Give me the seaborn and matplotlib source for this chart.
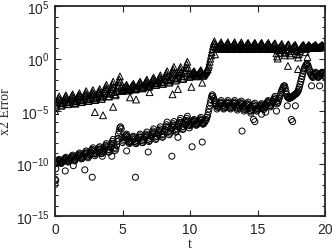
import numpy as np
import pandas as pd
import matplotlib
matplotlib.use("Agg")
import matplotlib.pyplot as plt
import matplotlib.ticker as mticker
import seaborn as sns

# time grid of the dense samples (every 0.05 from 0 to 20)
t_grid = [round(0.05 * i, 2) for i in range(401)]

# log10 of error, triangle series (one row = 0.5 time units)
tri_log = [
    -5.0, -4.6, -4.4, -4.2, -4.0, -3.8, -3.6, -3.9, -4.2, -4.5,
    -4.4, -4.25, -4.1, -3.95, -3.8, -3.65, -3.5, -3.8, -4.1, -4.35,
    -4.3, -4.15, -4.0, -3.85, -3.7, -3.55, -3.4, -3.7, -4.0, -4.25,
    -4.2, -4.05, -3.9, -3.75, -3.6, -3.45, -3.3, -3.6, -3.9, -4.15,
    -4.1, -3.95, -3.8, -3.6, -3.45, -3.3, -3.1, -3.45, -3.8, -4.05,
    -4.0, -3.85, -3.7, -3.5, -3.35, -3.2, -3.0, -3.35, -3.7, -3.95,
    -3.9, -3.75, -3.6, -3.4, -3.25, -3.1, -2.9, -3.25, -3.6, -3.85,
    -3.7, -3.5, -3.3, -3.1, -2.9, -2.7, -2.5, -2.9, -3.3, -3.6,
    -3.6, -3.35, -3.15, -2.9, -2.7, -2.45, -2.2, -2.7, -3.2, -3.5,
    -3.4, -3.1, -2.85, -2.55, -2.25, -2.0, -1.7, -2.2, -2.7, -3.0,
    -3.1, -3.0, -2.9, -2.8, -2.7, -2.6, -2.5, -2.7, -2.9, -3.05,
    -3.0, -2.9, -2.8, -2.7, -2.6, -2.5, -2.4, -2.6, -2.8, -2.95,
    -2.9, -2.8, -2.65, -2.55, -2.45, -2.3, -2.2, -2.45, -2.7, -2.85,
    -2.8, -2.65, -2.55, -2.4, -2.25, -2.15, -2.0, -2.3, -2.55, -2.7,
    -2.6, -2.45, -2.35, -2.2, -2.05, -1.95, -1.8, -2.1, -2.35, -2.5,
    -2.5, -2.35, -2.2, -2.05, -1.9, -1.75, -1.6, -1.95, -2.25, -2.4,
    -2.4, -2.2, -2.0, -1.8, -1.6, -1.4, -1.2, -1.65, -2.05, -2.3,
    -2.2, -1.95, -1.75, -1.5, -1.25, -1.05, -0.8, -1.35, -1.85, -2.1,
    -2.0, -1.8, -1.6, -1.4, -1.2, -1.0, -0.8, -1.3, -1.7, -1.95,
    -1.9, -1.65, -1.35, -1.1, -0.85, -0.55, -0.3, -0.9, -1.4, -1.75,
    -1.7, -1.6, -1.5, -1.45, -1.35, -1.3, -1.2, -1.35, -1.5, -1.65,
    -1.7, -1.6, -1.5, -1.4, -1.3, -1.2, -1.1, -1.3, -1.5, -1.65,
    -1.6, -1.5, -1.4, -1.3, -1.2, -1.1, -1.0, -0.8, -0.6, -0.3,
    0.0, 0.3, 0.6, 0.9, 1.2, 1.45, 1.65, 1.4, 1.15, 0.95,
    0.9, 1.0, 1.1, 1.2, 1.3, 1.4, 1.55, 1.35, 1.15, 0.95,
    0.9, 1.0, 1.1, 1.2, 1.3, 1.4, 1.55, 1.35, 1.15, 0.95,
    0.9, 1.0, 1.1, 1.2, 1.3, 1.4, 1.55, 1.35, 1.15, 0.95,
    0.9, 1.0, 1.1, 1.2, 1.3, 1.4, 1.55, 1.35, 1.15, 0.95,
    0.9, 1.0, 1.1, 1.2, 1.3, 1.4, 1.5, 1.35, 1.15, 0.95,
    0.9, 1.0, 1.1, 1.2, 1.3, 1.4, 1.5, 1.35, 1.15, 0.95,
    0.9, 1.0, 1.1, 1.2, 1.3, 1.4, 1.5, 1.35, 1.15, 0.95,
    0.9, 1.0, 1.1, 1.2, 1.3, 1.4, 1.5, 1.3, 1.1, 0.9,
    0.9, 1.0, 1.1, 1.2, 1.3, 1.4, 1.45, 1.0, 0.5, 0.2,
    0.8, 0.9, 1.0, 1.1, 1.2, 1.3, 1.4, 1.1, 0.8, 0.5,
    0.3, 0.6, 0.9, 1.1, 1.2, 1.3, 1.35, 0.9, 0.5, 0.3,
    0.7, 0.9, 1.0, 1.1, 1.2, 1.25, 1.3, 1.1, 0.8, 0.4,
    0.1, 0.4, 0.7, 0.9, 1.0, 1.1, 1.2, 1.25, 1.3, 1.2,
    1.0, 0.6, 0.9, 1.05, 1.15, 1.2, 1.3, 1.2, 1.1, 1.05,
    1.0, 1.05, 1.1, 1.15, 1.2, 1.25, 1.3, 1.2, 1.1, 1.05,
    1.0, 1.05, 1.1, 1.15, 1.2, 1.25, 1.3, 1.2, 1.1, 1.05,
    1.2,
]

# scattered low triangles
tri_out_t = [1.5, 2.95, 3.55, 4.3, 5.55, 6.0, 7.0, 8.7, 9.1, 10.1, 10.9,
             11.85, 16.5, 17.25, 18.0, 18.7]
tri_out_log = [-4.3, -5.1, -5.4, -4.6, -3.7, -3.9, -3.2, -3.4, -2.9, -2.7, -2.3,
               0.4, 0.0, -0.7, -1.0, 0.15]

# log10 of error, circle series (one row = 0.5 time units)
circ_log = [
    -11.5, -10.5, -10.0, -9.9, -9.8, -9.7, -9.6, -9.75, -9.9, -10.0,
    -9.9, -9.8, -9.7, -9.65, -9.55, -9.5, -9.4, -9.6, -9.75, -9.85,
    -9.8, -9.7, -9.6, -9.5, -9.4, -9.3, -9.2, -9.4, -9.6, -9.75,
    -9.6, -9.5, -9.4, -9.3, -9.2, -9.1, -9.0, -9.2, -9.4, -9.55,
    -9.5, -9.4, -9.3, -9.15, -9.05, -8.9, -8.8, -9.05, -9.3, -9.45,
    -9.3, -9.15, -9.05, -8.9, -8.75, -8.65, -8.5, -8.8, -9.05, -9.25,
    -9.1, -9.0, -8.85, -8.75, -8.65, -8.5, -8.4, -8.65, -8.9, -9.05,
    -9.0, -8.85, -8.7, -8.55, -8.4, -8.25, -8.1, -8.4, -8.7, -8.9,
    -8.9, -8.7, -8.5, -8.3, -8.1, -7.9, -7.7, -8.1, -8.5, -8.75,
    -8.6, -8.3, -7.9, -7.6, -7.2, -6.9, -6.6, -6.5, -6.7, -7.5,
    -8.0, -7.85, -7.7, -7.55, -7.4, -7.3, -7.2, -7.45, -7.7, -7.9,
    -8.1, -8.0, -7.9, -7.8, -7.65, -7.5, -7.4, -7.65, -7.9, -8.05,
    -8.1, -7.95, -7.8, -7.65, -7.5, -7.35, -7.2, -7.5, -7.8, -8.0,
    -8.0, -7.85, -7.7, -7.5, -7.35, -7.2, -7.0, -7.35, -7.7, -7.9,
    -7.8, -7.6, -7.4, -7.25, -7.05, -6.9, -6.7, -7.1, -7.45, -7.7,
    -7.6, -7.4, -7.2, -7.05, -6.85, -6.7, -6.5, -6.9, -7.25, -7.5,
    -7.4, -7.2, -6.95, -6.75, -6.5, -6.3, -6.05, -6.5, -6.95, -7.25,
    -7.1, -6.9, -6.7, -6.55, -6.35, -6.2, -6.0, -6.4, -6.75, -7.0,
    -6.9, -6.7, -6.5, -6.3, -6.1, -5.9, -5.7, -6.1, -6.5, -6.75,
    -6.7, -6.5, -6.3, -6.1, -5.9, -5.7, -5.5, -5.95, -6.35, -6.6,
    -6.4, -6.3, -6.2, -6.1, -6.0, -5.9, -5.8, -6.0, -6.2, -6.35,
    -6.3, -6.2, -6.1, -6.0, -5.85, -5.75, -5.6, -5.85, -6.1, -6.25,
    -6.2, -6.1, -6.0, -5.9, -5.8, -5.6, -5.4, -5.1, -4.8, -4.5,
    -4.2, -3.9, -3.6, -3.45, -3.6, -3.8, -4.0, -4.2, -4.35, -4.5,
    -4.8, -4.65, -4.55, -4.4, -4.25, -4.15, -4.0, -4.25, -4.5, -4.7,
    -4.8, -4.65, -4.55, -4.4, -4.25, -4.15, -4.0, -4.25, -4.5, -4.7,
    -4.8, -4.65, -4.55, -4.4, -4.25, -4.15, -4.0, -4.25, -4.5, -4.7,
    -4.9, -4.75, -4.6, -4.45, -4.3, -4.2, -4.05, -4.3, -4.6, -4.8,
    -5.0, -4.85, -4.7, -4.55, -4.4, -4.3, -4.15, -4.4, -4.75, -5.0,
    -5.2, -5.0, -4.85, -4.7, -4.55, -4.4, -4.25, -4.5, -4.8, -5.0,
    -4.9, -4.8, -4.7, -4.6, -4.5, -4.4, -4.3, -4.5, -4.7, -4.85,
    -4.7, -4.6, -4.45, -4.35, -4.2, -4.1, -4.0, -4.2, -4.45, -4.6,
    -4.5, -4.35, -4.2, -4.05, -3.9, -3.75, -3.6, -3.85, -4.1, -4.3,
    -4.2, -4.0, -3.8, -3.6, -3.4, -3.2, -3.0, -2.9, -2.75, -2.6,
    -2.6, -2.8, -3.1, -3.4, -3.6, -3.7, -3.75, -3.8, -3.75, -3.7,
    -3.7, -3.65, -3.6, -3.55, -3.5, -3.45, -3.4, -3.35, -3.3, -3.2,
    -3.1, -2.9, -2.7, -2.45, -2.2, -1.95, -1.7, -1.45, -1.2, -1.0,
    -0.85, -0.7, -0.6, -0.5, -0.55, -0.7, -0.9, -1.1, -1.3, -1.5,
    -1.6, -1.7, -1.8, -1.65, -1.5, -1.4, -1.3, -1.45, -1.6, -1.75,
    -1.8, -1.7, -1.6, -1.5, -1.4, -1.35, -1.3, -1.45, -1.6, -1.7,
    -1.5,
]

# scattered low circles
circ_out_t = [0.0, 0.05, 0.75, 1.35, 2.2, 2.75, 3.5, 4.2, 5.3, 5.95, 6.9,
              8.65, 9.1, 10.15, 10.9, 13.85, 14.7, 14.8, 15.3, 15.6, 16.4,
              17.2, 17.5, 17.6, 17.8, 19.0, 19.6]
circ_out_log = [-12.0, -11.6, -10.7, -10.2, -10.6, -11.3, -9.3, -9.3, -8.8, -11.3, -8.9,
                -9.3, -7.5, -8.4, -7.95, -6.9, -5.8, -6.0, -5.3, -5.1, -5.0,
                -4.5, -5.8, -6.0, -4.5, -2.6, -2.6]

tri = pd.DataFrame({"t": t_grid + tri_out_t, "err": 10.0 ** np.array(tri_log + tri_out_log)})
circ = pd.DataFrame({"t": t_grid + circ_out_t, "err": 10.0 ** np.array(circ_log + circ_out_log)})

sns.set_style("ticks")
plt.rcParams["font.family"] = ["Liberation Sans", "DejaVu Sans"]

fig = plt.figure(figsize=(3.32, 2.53), dpi=100)
ax = fig.add_axes([0.166, 0.142, 0.813, 0.830])

sns.scatterplot(data=tri, x="t", y="err", marker="^", s=24,
                fc="none", ec="black", linewidth=0.7, ax=ax)
sns.scatterplot(data=circ, x="t", y="err", marker="o", s=19,
                fc="none", ec="black", linewidth=0.7, ax=ax)

ax.set_yscale("log")
ax.set_xlim(0, 20)
ax.set_ylim(1e-15, 1e5)
ax.set_xticks([0, 5, 10, 15, 20])
ax.yaxis.set_major_locator(mticker.FixedLocator([1e-15, 1e-10, 1e-5, 1e0, 1e5]))
ax.yaxis.set_minor_locator(mticker.FixedLocator([10.0 ** k for k in range(-15, 6)]))
ax.yaxis.set_major_formatter(mticker.LogFormatterMathtext())
ax.yaxis.set_minor_formatter(mticker.NullFormatter())
ax.tick_params(which="both", direction="in", top=True, right=True, labelsize=10,
               width=0.8, pad=4)
ax.tick_params(which="major", length=4)
ax.tick_params(which="minor", length=2)
for sp in ax.spines.values():
    sp.set_linewidth(1.3)

ax.set_xlabel("t", family="Liberation Serif", fontsize=10, labelpad=1)
ax.set_ylabel("x2 Error", family="Liberation Serif", fontsize=10, labelpad=3)

fig.savefig("out.png", dpi=100)
